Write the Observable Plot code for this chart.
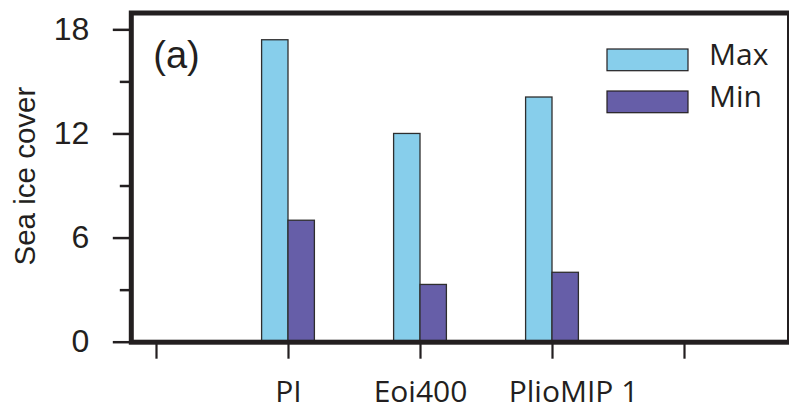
<!DOCTYPE html>
<html><head><meta charset="utf-8">
<script src="https://cdn.jsdelivr.net/npm/d3@7"></script>
<script src="https://cdn.jsdelivr.net/npm/@observablehq/plot@0.6"></script>
<style>
html,body{margin:0;padding:0;background:#fff;}
#chart{position:relative;width:789px;height:409px;overflow:hidden;}
</style></head><body><div id="chart"></div>
<script>
// ---- data ----
const categories = ["PI", "Eoi400", "PlioMIP 1"];
const maxValues = [17.4, 12.0, 14.1];
const minValues = [7.0, 3.3, 4.0];
const seriesNames = ["Max", "Min"];
const seriesColors = ["#87ceeb", "#665ea8"];
const yMajorTicks = [0, 6, 12, 18];
const yMinorTicks = [3, 9, 15];
const xSlots = [1, 2, 3, 4, 5];
const panelLabel = "(a)";
const yLabel = "Sea ice cover";

// ---- layout ----
const firstSlot = 2; // categories occupy slots 2..4 of 1..5
const catSlots = categories.map((c, i) => firstSlot + i);
const barW = 0.2;
const rows = categories.flatMap((c, i) => [
  {category: c, series: seriesNames[0], slot: catSlots[i], value: maxValues[i]},
  {category: c, series: seriesNames[1], slot: catSlots[i], value: minValues[i]}
]);

const W = 789, H = 409;
const mL = 130.8, mR = 0, mT = 12.5, mB = 67.3;
const ink = "#231f20";
const helv = "'Liberation Sans', Arial, Helvetica, sans-serif";
const myriad = "'Open Sans', 'Noto Sans', sans-serif";

function legend(index, scales, values, dims, context) {
  const g = d3.create("svg:g").attr("text-anchor", "start");
  seriesNames.forEach((s, i) => {
    const y0 = 49 + i * 42;
    g.append("rect").attr("x", 607).attr("y", y0).attr("width", 81).attr("height", 21.7)
      .attr("fill", scales.color(s)).attr("stroke", ink).attr("stroke-width", 1.2);
    g.append("text").attr("x", 709).attr("y", y0 + 16).text(s)
      .attr("text-anchor", "start")
      .attr("font-family", myriad).attr("font-size", 30).attr("fill", ink);
  });
  return g.node();
}

const chart = Plot.plot({
  width: W, height: H,
  marginLeft: mL, marginRight: mR, marginTop: mT, marginBottom: mB,
  style: {fontFamily: helv, color: ink, background: "#fff"},
  x: {domain: [(mL - 24) / 132, (W - mR - 24) / 132], axis: null},
  y: {domain: [0, 18.97], axis: null},
  color: {domain: seriesNames, range: seriesColors},
  marks: [
    Plot.rect(rows, {
      x1: d => d.series === seriesNames[0] ? d.slot - barW : d.slot,
      x2: d => d.series === seriesNames[0] ? d.slot : d.slot + barW,
      y1: d => 0, y2: "value",
      fill: "series", stroke: "#2e2e2e", strokeWidth: 1.3
    }),
    Plot.axisY({ticks: yMajorTicks, tickSize: 18, tickPadding: 24, fontSize: 32,
      fontFamily: helv, strokeWidth: 2.5, label: null, tickFormat: d => String(d)}),
    Plot.axisY({ticks: yMinorTicks, tickSize: 11, strokeWidth: 2.5, label: null, tickFormat: () => ""}),
    Plot.axisX({ticks: xSlots, tickSize: 17, strokeWidth: 2.2, label: null, tickFormat: () => ""}),
    Plot.axisX({ticks: catSlots.slice(0, -1), tickSize: 0, tickPadding: 38, fontSize: 30,
      fontFamily: myriad, label: null, tickFormat: p => categories[p - firstSlot]}),
    Plot.axisX({ticks: catSlots.slice(-1), tickSize: 0, tickPadding: 38, fontSize: 30, dx: 21,
      fontFamily: myriad, label: null, tickFormat: p => categories[p - firstSlot]}),
    Plot.frame({stroke: ink, strokeWidth: 5}),
    Plot.text([panelLabel], {text: d => d, frameAnchor: "top-left", dx: 22, dy: 28,
      textAnchor: "start", lineAnchor: "top", fontSize: 38, fontFamily: helv, fill: ink}),
    Plot.text([yLabel], {text: d => d, frameAnchor: "left", rotate: -90, dx: -96, dy: -1.5,
      textAnchor: "middle", lineAnchor: "bottom", fontSize: 29.5, fontFamily: helv, fill: ink}),
    legend
  ]
});
document.getElementById("chart").appendChild(chart);
</script>
</body></html>
